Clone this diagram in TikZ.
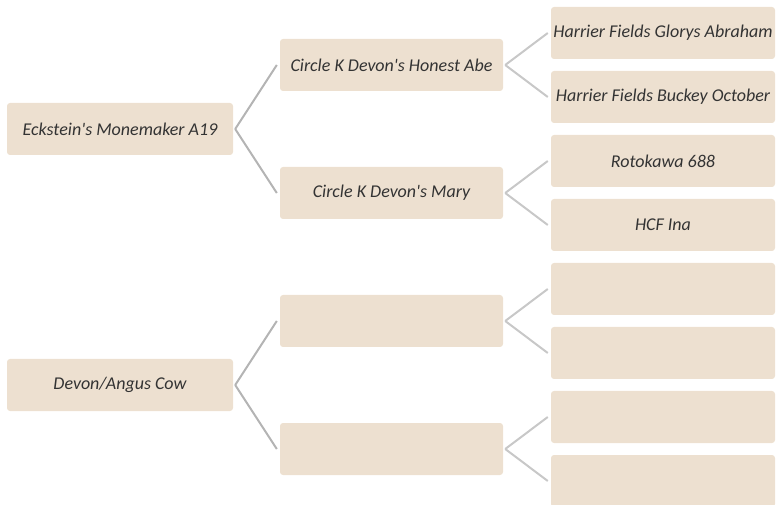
\documentclass[tikz,border=0pt]{standalone}
\usepackage{fontspec}
\setmainfont{Carlito}
\definecolor{boxfill}{HTML}{EDE0D0}
\definecolor{txt}{HTML}{333333}
\definecolor{lineA}{HTML}{B4B4B4}
\definecolor{lineB}{HTML}{C8C8C8}
\begin{document}
\begin{tikzpicture}[x=1pt,y=-1pt,
  pbox/.style={fill=boxfill,rounded corners=3pt,minimum height=52pt,inner sep=0pt,
    font=\fontsize{18}{20}\selectfont\itshape,text=txt,anchor=center},
  g1/.style={pbox,minimum width=226pt},
  g2/.style={pbox,minimum width=223pt},
  g3/.style={pbox,minimum width=224pt},
  conA/.style={draw=lineA,line width=2pt},
  conB/.style={draw=lineB,line width=2pt}]
\useasboundingbox (0,0) rectangle (780,505);
\clip (0,0) rectangle (780,505);
\node[g1] (a) at (120,129) {Eckstein\textquotesingle s Monemaker A19};
\node[g1] (b) at (120,385) {Devon/Angus Cow};
\node[g2] (a1) at (391.5,65) {Circle K Devon\textquotesingle s Honest Abe};
\node[g2] (a2) at (391.5,193) {Circle K Devon\textquotesingle s Mary};
\node[g2] (b1) at (391.5,321) {};
\node[g2] (b2) at (391.5,449) {};
\node[g3] (a11) at (663,33) {Harrier Fields Glorys Abraham};
\node[g3] (a12) at (663,97) {Harrier Fields Buckey October};
\node[g3] (a21) at (663,161) {Rotokawa 688};
\node[g3] (a22) at (663,225) {HCF Ina};
\node[g3] (b11) at (663,289) {};
\node[g3] (b12) at (663,353) {};
\node[g3] (b21) at (663,417) {};
\node[g3] (b22) at (663,481) {};
\foreach \p/\c in {a/a1,a/a2,b/b1,b/b2}{
  \draw[conA] ([xshift=2pt]\p.east) -- ([xshift=-3pt]\c.west);
}
\foreach \p/\c in {a1/a11,a1/a12,a2/a21,a2/a22,b1/b11,b1/b12,b2/b21,b2/b22}{
  \draw[conB] ([xshift=2pt]\p.east) -- ([xshift=-3pt]\c.west);
}
\end{tikzpicture}
\end{document}
